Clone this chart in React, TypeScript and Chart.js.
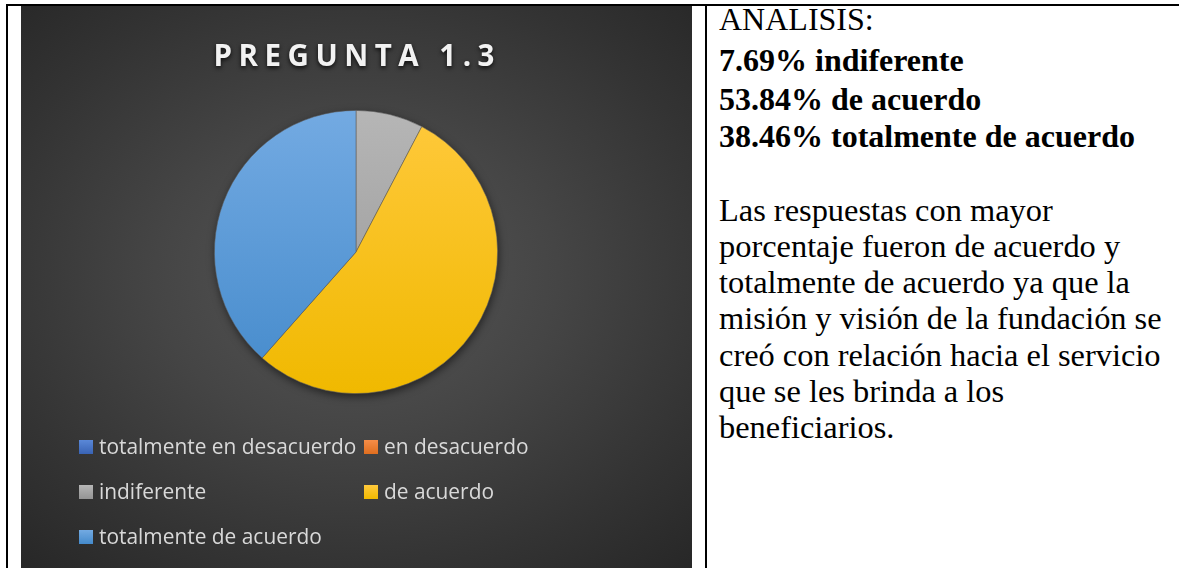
import React, { useEffect, useRef } from 'react';
import { Chart, registerables } from 'chart.js';

Chart.register(...registerables);

const chartTitle = 'PREGUNTA 1.3';
const categories = [
  'totalmente en desacuerdo',
  'en desacuerdo',
  'indiferente',
  'de acuerdo',
  'totalmente de acuerdo',
];
const responses = [0, 0, 1, 7, 5];
const colorsTop = ['#5a88d8', '#f58d48', '#b6b6b6', '#ffc93c', '#73aae2'];
const colorsBottom = ['#3963b4', '#df6e1f', '#949494', '#f0b900', '#448acb'];
const legendColumns = 2;

const shadowPlugin = {
  id: 'pieShadow',
  beforeDatasetsDraw(chart: any) {
    const meta = chart.getDatasetMeta(0);
    const arc = meta.data.find((a: any) => a.outerRadius > 0);
    if (!arc) return;
    const ctx = chart.ctx;
    ctx.save();
    ctx.shadowColor = 'rgba(0,0,0,0.55)';
    ctx.shadowBlur = 9;
    ctx.shadowOffsetX = 1;
    ctx.shadowOffsetY = 3;
    ctx.fillStyle = '#3a3a3a';
    ctx.beginPath();
    ctx.arc(arc.x, arc.y, arc.outerRadius, 0, Math.PI * 2);
    ctx.fill();
    ctx.restore();
  },
};

const titlePlugin = {
  id: 'spacedTitle',
  afterDraw(chart: any) {
    const ctx = chart.ctx;
    const area = chart.chartArea;
    const cx = (area.left + area.right) / 2 - 2;
    const spacing = 6.5;
    const text = chart.options.plugins.spacedTitle.text;
    ctx.save();
    ctx.font = 'bold 29.5px "Open Sans"';
    (ctx as any).letterSpacing = spacing + 'px';
    ctx.textAlign = 'left';
    ctx.textBaseline = 'alphabetic';
    const w = ctx.measureText(text).width - spacing;
    ctx.shadowColor = 'rgba(0,0,0,0.8)';
    ctx.shadowBlur = 4;
    ctx.shadowOffsetY = 2;
    ctx.fillStyle = '#f2f2f2';
    ctx.fillText(text, cx - w / 2, 60);
    ctx.restore();
  },
};

const gridLegendPlugin = {
  id: 'gridLegend',
  afterDraw(chart: any) {
    const ctx = chart.ctx;
    const labels: string[] = chart.data.labels;
    const opts = chart.options.plugins.gridLegend;
    ctx.save();
    ctx.font = '20.9px "Open Sans"';
    ctx.textBaseline = 'middle';
    ctx.textAlign = 'left';
    labels.forEach((label, i) => {
      const col = i % opts.columns;
      const row = Math.floor(i / opts.columns);
      const x = opts.x + col * opts.colWidth;
      const y = opts.y + row * opts.rowHeight;
      const g = ctx.createLinearGradient(0, y - 7, 0, y + 7);
      g.addColorStop(0, colorsTop[i]);
      g.addColorStop(1, colorsBottom[i]);
      ctx.fillStyle = g;
      ctx.fillRect(x, y - 7, 14, 14);
      ctx.fillStyle = '#d9d9d9';
      ctx.fillText(label, x + 20, y + 1);
    });
    ctx.restore();
  },
};

function PieChart() {
  const ref = useRef<HTMLCanvasElement>(null);
  useEffect(() => {
    if (!ref.current) return;
    const grad = (top: string[], bottom: string[]) => (c: any) => {
      const chart = c.chart;
      const area = chart.chartArea;
      if (!area) return top[c.dataIndex];
      const g = chart.ctx.createLinearGradient(0, area.top, 0, area.bottom);
      g.addColorStop(0, top[c.dataIndex]);
      g.addColorStop(1, bottom[c.dataIndex]);
      return g;
    };
    const chart = new Chart(ref.current, {
      type: 'pie',
      data: {
        labels: categories,
        datasets: [
          {
            data: responses,
            backgroundColor: grad(colorsTop, colorsBottom),
            borderColor: 'rgba(90,90,90,0.7)',
            borderWidth: 0.8,
          },
        ],
      },
      options: {
        responsive: false,
        animation: false,
        layout: { padding: { top: 104, bottom: 174, left: 193, right: 194 } },
        plugins: {
          legend: { display: false },
          title: { display: false },
          tooltip: { enabled: false },
          spacedTitle: { text: chartTitle },
          gridLegend: { columns: legendColumns, x: 58, y: 441, colWidth: 285, rowHeight: 45 },
        } as any,
      },
      plugins: [shadowPlugin, titlePlugin, gridLegendPlugin],
    });
    return () => chart.destroy();
  }, []);
  return <canvas ref={ref} width={671} height={562} style={{ display: 'block' }} />;
}

const serif = '"Liberation Serif", "Times New Roman", serif';

function Line({ text, bold, size, baseline }: { text: string; bold?: boolean; size: number; baseline: number }) {
  return (
    <div
      style={{
        position: 'absolute',
        left: 719,
        top: baseline - 0.8375 * size,
        fontFamily: serif,
        fontSize: size,
        fontWeight: bold ? 'bold' : 'normal',
        lineHeight: 1,
        whiteSpace: 'nowrap',
        color: '#000',
      }}
    >
      {text}
    </div>
  );
}

export default function App() {
  return (
    <div
      style={{
        position: 'fixed',
        left: 0,
        top: 0,
        width: 1179,
        height: 568,
        background: '#fff',
        overflow: 'hidden',
      }}
    >
      <div style={{ position: 'absolute', left: 6, top: 4, width: 1173, height: 2, background: '#000' }} />
      <div style={{ position: 'absolute', left: 6, top: 4, width: 2, height: 564, background: '#000' }} />
      <div style={{ position: 'absolute', left: 705, top: 4, width: 2, height: 564, background: '#000' }} />
      <div
        style={{
          position: 'absolute',
          left: 21,
          top: 6,
          width: 671,
          height: 562,
          background:
            'radial-gradient(ellipse 75% 70% at 50% 48%, #575757 0%, #454545 40%, #333333 75%, #272727 100%)',
        }}
      >
        <PieChart />
      </div>
      <Line text="ANALISIS:" size={32} baseline={29.5} />
      <Line text="7.69% indiferente" bold size={32} baseline={71} />
      <Line text="53.84% de acuerdo" bold size={32} baseline={110} />
      <Line text="38.46% totalmente de acuerdo" bold size={32} baseline={147} />
      <Line text="Las respuestas con mayor" size={32.4} baseline={221} />
      <Line text="porcentaje fueron de acuerdo y" size={32.4} baseline={257} />
      <Line text="totalmente de acuerdo ya que la" size={32.4} baseline={293.5} />
      <Line text="misión y visión de la fundación se" size={32.4} baseline={329.5} />
      <Line text="creó con relación hacia el servicio" size={32.4} baseline={366} />
      <Line text="que se les brinda a los" size={32.4} baseline={402} />
      <Line text="beneficiarios." size={32.4} baseline={438} />
    </div>
  );
}
